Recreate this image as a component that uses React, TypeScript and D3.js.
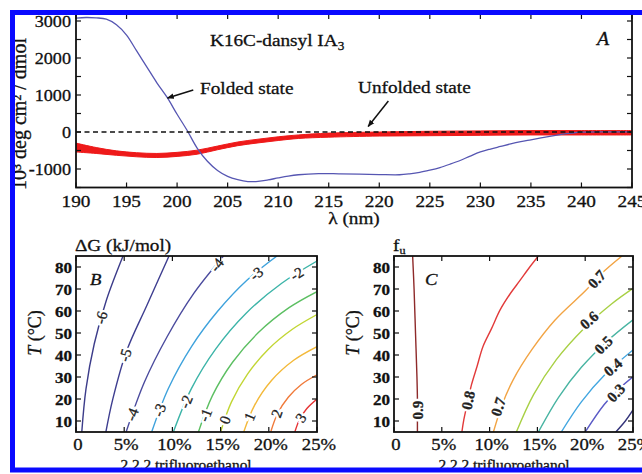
import React from "react";
import * as d3 from "d3";

type P = [number, number];

const W = 642;
const H = 474;
const FONT = "Liberation Serif, Times New Roman, serif";
const SX = 1.1;

// ---------------- Panel A : CD spectra ----------------
const foldedWl = [190,191,192,193,194,195,196,197,198,199,200,201,202,203,204,205,206,207,208,209,210,211,212,214,216,218,220,222,223,224,225,226,227,228,229,230,231,232,233,234,235,236,237,238,239,240,242,245];
const foldedMre = [3080,3095,3085,3050,2900,2620,2190,1760,1330,940,480,40,-440,-790,-1040,-1200,-1290,-1340,-1335,-1295,-1240,-1190,-1155,-1125,-1130,-1140,-1150,-1155,-1130,-1090,-1030,-960,-870,-770,-650,-540,-460,-390,-320,-260,-210,-160,-110,-65,-30,-5,5,5];

const unfoldedWl = [190,192,194,196,198,200,202,204,206,208,210,212,215,220,225,230,235,240,245];
const unfoldedHigh = [-300,-420,-510,-560,-580,-550,-490,-380,-270,-195,-130,-80,-30,0,20,30,40,40,40];
const unfoldedLow = [-540,-580,-630,-670,-690,-660,-600,-480,-370,-295,-230,-175,-140,-110,-100,-90,-80,-80,-80];

const lambdaTicks = [190,195,200,205,210,215,220,225,230,235,240,245];
const mreLabelTicks = [-1000,0,1000,2000,3000];
const mreTicks = [-1500,-1000,-500,0,500,1000,1500,2000,2500,3000];

// ---------------- Panels B, C : contour maps ----------------
const tfeTicks = [0,5,10,15,20,25];
const tfeTickLabels = ["0","5%","10%","15%","20%","25%"];
const tempTicks = [10,20,30,40,50,60,70,80];

// Panel B: dG (kJ/mol) contour lines, points are [TFE %, T °C]
const dGLevels = ["-6","-5","-4","-3","-2","-1","0","1","2","3"];
const dGColors = ["#3c3c8a","#3e3e90","#4b4b9e","#3ea2dc","#3cb4a8","#5cbf62","#c2d634","#f3b93a","#f07a3a","#e63434"];
const dG_m6: P[] = [[0.6,5],[1.04,24.7],[1.89,45],[3.15,64.9],[4.88,85]];
const dG_m5: P[] = [[3.1,5],[3.81,19.8],[5.25,41.8],[7.37,62.7],[9.65,85]];
const dG_m4: P[] = [[5.2,5],[7.1,27.7],[9.45,48.3],[12.2,67.9],[15.3,85]];
const dG_m3: P[] = [[7.85,5],[9.58,24.8],[12.03,44.2],[14.67,59.8],[17.7,73.9],[20.85,85]];
const dG_m2: P[] = [[10.1,5],[11.97,24.7],[14.5,42.8],[17.65,59],[21.34,72.6],[25,82.7]];
const dG_m1: P[] = [[12.7,5],[14.14,21.4],[16.24,36.7],[18.92,50.2],[22.1,61.5],[25,68.8]];
const dG_0: P[] = [[15,5],[16.13,18.7],[17.79,31.3],[19.93,42.5],[22.48,51.8],[25,58.4]];
const dG_p1: P[] = [[17.4,5],[18.52,17.1],[20.28,28.4],[22.58,37.6],[25,43.8]];
const dG_p2: P[] = [[20.2,5],[20.9,13.3],[22.02,20.8],[23.38,26.6],[25,31]];
const dG_p3: P[] = [[22.7,5],[23.19,10.7],[23.95,15.7],[25,20]];
const dGLines = [dG_m6,dG_m5,dG_m4,dG_m3,dG_m2,dG_m1,dG_0,dG_p1,dG_p2,dG_p3];
const dGLabelAt: P[][] = [[[2.6,57]],[[5.1,40]],[[5.8,13],[14.6,81]],[[8.65,15],[18.7,77]],[[11.4,18.8],[22.9,77]],[[13.4,12.7]],[[15.45,10.5]],[[18,12]],[[20.8,13.5]],[[23.3,11.5]]];

// Panel C: fraction unfolded contour lines
const fuLevels = ["0.9","0.8","0.7","0.6","0.5","0.4","0.3","0.2"];
const fuColors = ["#8e2a2a","#e23a3a","#f2a444","#a8d044","#48b4a2","#42a6e0","#5a5ac6","#34347a"];
const fu_09: P[] = [[2.45,5],[2.45,10],[2.45,20],[2.4,30],[2.25,50],[2.1,70],[1.95,85]];
const fu_08: P[] = [[7.1,5],[7.3,10.5],[7.75,19.5],[8.1,26.4],[8.7,35],[9.3,43.8],[10.2,52],[11.1,60.5],[12.1,67.5],[13.2,74],[14.2,80],[15.1,85]];
const fu_07: P[] = [[10.4,5],[11.3,17.3],[12.45,28.6],[14.4,42.3],[16.85,55.9],[20.1,69.5],[21.65,76.8],[23.85,85]];
const fu_06: P[] = [[12.8,5],[14.6,22],[16.98,37.9],[19.9,52.2],[22.75,63.2],[25,70.3]];
const fu_05: P[] = [[15.1,5],[17.25,21],[19.6,34.4],[22.32,46.4],[25,56]];
const fu_04: P[] = [[17.5,5],[19.6,18.7],[22.1,31.2],[25,42.3]];
const fu_03: P[] = [[20,5],[21.99,17.5],[23.52,24.6],[25,30.1]];
const fu_02: P[] = [[23.2,5],[24.2,10],[25,15]];
const fuLines = [fu_09,fu_08,fu_07,fu_06,fu_05,fu_04,fu_03,fu_02];
const fuLabelAt: P[][] = [[[2.45,15]],[[7.75,19.5]],[[10.9,16.5],[21.2,74.5]],[[20.4,55.9]],[[21.9,44.6]],[[22.9,34.5]],[[23.2,22.8]],[]];

// ---------------- helpers ----------------
function Txt(props: { x: number; y: number; size: number; anchor?: string; italic?: boolean; weight?: string | number; sx?: number; children: React.ReactNode; dy?: string }) {
  const { x, y, size, anchor = "start", italic, weight, sx = SX, children, dy } = props;
  return (
    <text
      transform={`translate(${x},${y}) scale(${sx},1)`}
      style={{ fontFamily: FONT }}
      fontSize={size}
      textAnchor={anchor as any}
      fontStyle={italic ? "italic" : "normal"}
      fontWeight={weight ?? "normal"}
      dy={dy}
      fill="#111"
      stroke="#111"
      strokeWidth={0.3}
    >
      {children}
    </text>
  );
}

function labelAngle(pts: P[], lp: P, xs: (v: number) => number, ys: (v: number) => number) {
  const px = xs(lp[0]);
  const py = ys(lp[1]);
  let best = 0;
  let bd = Infinity;
  for (let i = 0; i < pts.length - 1; i++) {
    const ax = xs(pts[i][0]), ay = ys(pts[i][1]);
    const bx = xs(pts[i + 1][0]), by = ys(pts[i + 1][1]);
    const dx = bx - ax, dy = by - ay;
    const L = dx * dx + dy * dy;
    let t = L ? ((px - ax) * dx + (py - ay) * dy) / L : 0;
    t = Math.max(0, Math.min(1, t));
    const qx = ax + t * dx, qy = ay + t * dy;
    const d = (qx - px) ** 2 + (qy - py) ** 2;
    if (d < bd) { bd = d; best = i; }
  }
  const a = pts[best];
  const b = pts[best + 1];
  let ang = (Math.atan2(ys(b[1]) - ys(a[1]), xs(b[0]) - xs(a[0])) * 180) / Math.PI;
  if (ang > 90) ang -= 180;
  if (ang < -90) ang += 180;
  return ang;
}

function ContourPanel(props: {
  x0: number; x1: number; y0: number; y1: number;
  lines: P[][]; colors: string[]; levels: string[]; labels: P[][];
  labelWeight: string | number; letter: string; letterX: number;
  clipId: string; titleX: number;
}) {
  const { x0, x1, y0, y1, lines, colors, levels, labels, labelWeight, letter, letterX, clipId, titleX } = props;
  const xs = d3.scaleLinear().domain([0, 25]).range([x0, x1]);
  const ys = d3.scaleLinear().domain([5, 85]).range([y1, y0]);
  const gen = d3.line<P>().x((d) => xs(d[0])).y((d) => ys(d[1])).curve(d3.curveCatmullRom.alpha(0.5));
  const labelItems: { key: string; x: number; y: number; a: number; text: string }[] = [];
  lines.forEach((pts, i) =>
    labels[i].forEach((lp, j) => {
      labelItems.push({ key: `${i}-${j}`, x: xs(lp[0]), y: ys(lp[1]), a: labelAngle(pts, lp, xs, ys), text: levels[i] });
    })
  );
  return (
    <g>
      <defs>
        <clipPath id={clipId}>
          <rect x={x0} y={y0} width={x1 - x0} height={y1 - y0} />
        </clipPath>
      </defs>
      <g clipPath={`url(#${clipId})`}>
        {lines.map((pts, i) => (
          <path key={i} d={gen(pts) || ""} fill="none" stroke={colors[i]} strokeWidth={1.4} />
        ))}
        {labelItems.map((l) => (
          <text
            key={"h" + l.key}
            transform={`translate(${l.x},${l.y}) rotate(${l.a})`}
            style={{ fontFamily: FONT }}
            fontSize={15}
            fontWeight={labelWeight}
            textAnchor="middle"
            dy="0.35em"
            fill="#fff"
            stroke="#fff"
            strokeWidth={5}
          >
            {l.text}
          </text>
        ))}
        {labelItems.map((l) => (
          <text
            key={"t" + l.key}
            transform={`translate(${l.x},${l.y}) rotate(${l.a})`}
            style={{ fontFamily: FONT }}
            fontSize={15}
            fontWeight={labelWeight}
            textAnchor="middle"
            dy="0.35em"
            fill="#222"
            stroke="#222"
            strokeWidth={0.3}
          >
            {l.text}
          </text>
        ))}
      </g>
      <rect x={x0} y={y0} width={x1 - x0} height={y1 - y0} fill="none" stroke="#111" strokeWidth={1.8} />
      {tempTicks.map((t) => (
        <g key={t}>
          <line x1={x0} x2={x0 + 5} y1={ys(t)} y2={ys(t)} stroke="#111" strokeWidth={1.2} />
          <line x1={x1} x2={x1 - 5} y1={ys(t)} y2={ys(t)} stroke="#111" strokeWidth={1.2} />
          <Txt x={x0 - 4} y={ys(t)} size={15.5} anchor="end" dy="0.36em" weight="bold">{String(t)}</Txt>
        </g>
      ))}
      {tfeTicks.map((v, i) => (
        <g key={v}>
          <line x1={xs(v)} x2={xs(v)} y1={y1} y2={y1 - 5} stroke="#111" strokeWidth={1.2} />
          <line x1={xs(v)} x2={xs(v)} y1={y0} y2={y0 + 5} stroke="#111" strokeWidth={1.2} />
          <Txt x={xs(v) + 2} y={450} size={17} anchor="middle">{tfeTickLabels[i]}</Txt>
        </g>
      ))}
      <Txt x={letterX} y={285} size={17} italic>{letter}</Txt>
      <text transform={`translate(${x0 - 35},${333}) rotate(-90)`} style={{ fontFamily: FONT }} fontSize={18} textAnchor="middle" fill="#111" stroke="#111" strokeWidth={0.3}>
        <tspan fontStyle="italic">T</tspan>
        <tspan> (°C)</tspan>
      </text>
      <Txt x={titleX} y={470} size={14} anchor="middle">2,2,2 trifluoroethanol</Txt>
    </g>
  );
}

function PanelA() {
  const xs = d3.scaleLinear().domain([190, 245]).range([76, 632]);
  const ys = d3.scaleLinear().domain([0, 3000]).range([132, 21]);
  const top = 14;
  const bottom = ys(-1500);
  const folded: P[] = foldedWl.map((w, i) => [w, foldedMre[i]]);
  const band = unfoldedWl.map((w, i) => ({ w, hi: unfoldedHigh[i], lo: unfoldedLow[i] }));
  const lineGen = d3.line<P>().x((d) => xs(d[0])).y((d) => ys(d[1])).curve(d3.curveCatmullRom.alpha(0.5));
  const areaGen = d3
    .area<{ w: number; hi: number; lo: number }>()
    .x((d) => xs(d.w))
    .y0((d) => ys(d.lo))
    .y1((d) => ys(d.hi))
    .curve(d3.curveCatmullRom.alpha(0.5));
  return (
    <g>
      <defs>
        <clipPath id="clipA">
          <rect x={76} y={top} width={556} height={bottom - top} />
        </clipPath>
        <marker id="arr" viewBox="0 0 10 10" refX="9" refY="5" markerWidth="7" markerHeight="7" orient="auto-start-reverse" markerUnits="userSpaceOnUse">
          <path d="M0,1 L10,5 L0,9 Z" fill="#111" />
        </marker>
      </defs>
      <g clipPath="url(#clipA)">
        <path d={areaGen(band) || ""} fill="#ee1a1a" stroke="#ee1a1a" strokeWidth={1} />
        <path d={lineGen(folded) || ""} fill="none" stroke="#5656b2" strokeWidth={1.3} />
        <line x1={xs(190)} x2={xs(245)} y1={ys(0)} y2={ys(0)} stroke="#111" strokeWidth={1.6} strokeDasharray="5 3.5" />
      </g>
      <rect x={76} y={top} width={556} height={bottom - top} fill="none" stroke="#111" strokeWidth={1.8} />
      {mreTicks.map((t) => (
        <g key={t}>
          <line x1={76} x2={81} y1={ys(t)} y2={ys(t)} stroke="#111" strokeWidth={1.2} />
          <line x1={632} x2={627} y1={ys(t)} y2={ys(t)} stroke="#111" strokeWidth={1.2} />
        </g>
      ))}
      {mreLabelTicks.map((t) => (
        <Txt key={t} x={71} y={ys(t)} size={16.5} anchor="end" dy="0.36em">{String(t)}</Txt>
      ))}
      {lambdaTicks.map((t) => (
        <g key={t}>
          <line x1={xs(t)} x2={xs(t)} y1={bottom} y2={bottom - 5} stroke="#111" strokeWidth={1.2} />
          <line x1={xs(t)} x2={xs(t)} y1={top} y2={top + 5} stroke="#111" strokeWidth={1.2} />
          <Txt x={xs(t)} y={207} size={17.5} anchor="middle">{String(t)}</Txt>
        </g>
      ))}
      <Txt x={354} y={224} size={17.5} anchor="middle">λ  (nm)</Txt>
      <text transform="translate(26,114) rotate(-90)" style={{ fontFamily: FONT }} fontSize={20} textAnchor="middle" fill="#111" stroke="#111" strokeWidth={0.3}>
        10³ deg cm² / dmol
      </text>
      <Txt x={210} y={46} size={17.5}>
        K16C-dansyl IA<tspan fontSize={12} dy={4}>3</tspan>
      </Txt>
      <Txt x={597} y={45} size={18} italic>A</Txt>
      <Txt x={200} y={94} size={17.5}>Folded state</Txt>
      <line x1={xs(201.6)} y1={ys(1135)} x2={xs(199.05)} y2={ys(920)} stroke="#111" strokeWidth={1.5} markerEnd="url(#arr)" />
      <Txt x={358} y={93} size={17.5}>Unfolded state</Txt>
      <line x1={xs(220.9)} y1={ys(840)} x2={xs(218.9)} y2={ys(150)} stroke="#111" strokeWidth={1.5} markerEnd="url(#arr)" />
    </g>
  );
}

export default function App() {
  return (
    <svg
      width={W}
      height={H}
      viewBox={`0 0 ${W} ${H}`}
      style={{ position: "absolute", left: 0, top: 0, background: "#fff" }}
    >
      <rect x={0} y={0} width={W} height={H} fill="#fff" />
      <PanelA />
      <ContourPanel
        x0={76} x1={317} y0={256} y1={432}
        lines={dGLines} colors={dGColors} levels={dGLevels} labels={dGLabelAt}
        labelWeight="normal" letter="B" letterX={90} clipId="clipB" titleX={186}
      />
      <Txt x={75} y={251} size={17.5}>ΔG  (kJ/mol)</Txt>
      <ContourPanel
        x0={394} x1={633} y0={256} y1={432}
        lines={fuLines} colors={fuColors} levels={fuLevels} labels={fuLabelAt}
        labelWeight="bold" letter="C" letterX={425} clipId="clipC" titleX={504}
      />
      <Txt x={393} y={251} size={17.5}>
        f<tspan fontSize={11} dy={3}>u</tspan>
      </Txt>
      <rect x={12.5} y={12.5} width={W + 20} height={457.5} fill="none" stroke="#0a0aff" strokeWidth={5} />
    </svg>
  );
}
